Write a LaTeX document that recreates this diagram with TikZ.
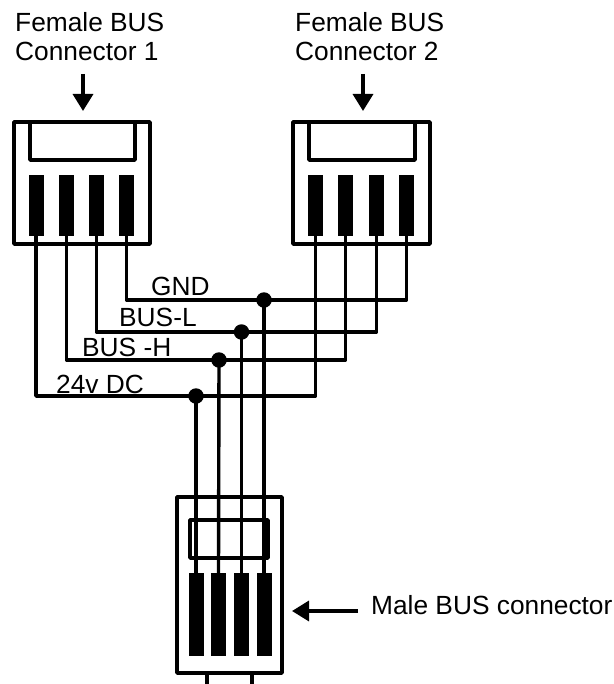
\documentclass[tikz,border=0pt]{standalone}
\usepackage{fontspec}
\setmainfont{Liberation Sans}
\usetikzlibrary{arrows.meta}
\begin{document}
\begin{tikzpicture}[x=1pt,y=-1pt,
  lbl/.style={anchor=base west,inner sep=0pt,font=\fontsize{26.3pt}{30pt}\selectfont},
  body/.style={draw,line width=3.4pt,line join=round,minimum width=0pt,minimum height=0pt,inner sep=0pt},
  wire/.style={line width=3.4pt,line join=round},
  pinbar/.style={fill=black,inner sep=0pt,minimum width=15pt},
  fpin/.style={pinbar,minimum height=61pt},
  mpin/.style={pinbar,minimum height=83pt},
  dotnode/.style={circle,fill=black,inner sep=0pt,minimum size=15.5pt},
  arr/.style={line width=3.4pt,-{Triangle[length=17pt,width=20pt]}}]
\useasboundingbox (0,0) rectangle (613,684);
% labels
\node[lbl] (t1a) at (15,32) {Female BUS};
\node[lbl] (t1b) at (15,61) {Connector 1};
\node[lbl] (t2a) at (295,32) {Female BUS};
\node[lbl] (t2b) at (295,61) {Connector 2};
\node[lbl] (tm) at (371,614) {Male BUS connector};
\node[lbl] (tg) at (151,295) {GND};
\node[lbl] (tl) at (119,326) {BUS-L};
\node[lbl] (th) at (82,356) {BUS -H};
\node[lbl] (td) at (56,393) {24v DC};
% connector 1
\node[body,minimum width=136pt,minimum height=122pt] (c1) at (82,183) {};
\node[body,minimum width=105pt,minimum height=38pt] (k1) at (82.5,141) {};
\foreach \n/\x in {1/36,2/66.5,3/96.5,4/126.5}
  \node[fpin] (a\n) at (\x,205.5) {};
% connector 2
\node[body,minimum width=137pt,minimum height=122pt] (c2) at (361.5,183) {};
\node[body,minimum width=106pt,minimum height=38pt] (k2) at (362,141) {};
\foreach \n/\x in {1/315.5,2/345.5,3/376.5,4/406.5}
  \node[fpin] (b\n) at (\x,205.5) {};
% male
\node[body,minimum width=105pt,minimum height=176pt] (m) at (229.5,585) {};
\node[body,minimum width=78pt,minimum height=38pt] (mk) at (229,539) {};
\foreach \n/\x in {1/196,2/218.5,3/241.5,4/264}
  \node[mpin] (p\n) at (\x,614.5) {};
% junctions
\node[dotnode] (j4) at (264,300) {};
\node[dotnode] (j3) at (241.5,332) {};
\node[dotnode] (j2) at (219,360) {};
\node[dotnode] (j1) at (196,396) {};
% wires
\foreach \n in {1,2,3,4}{
  \draw[wire] (a\n.south) |- (j\n.center) -| (b\n.south);
  \draw[wire] (j\n.center) -- (p\n.north);
}
% arrows
\coordinate (s1) at (83,74); \coordinate (e1) at (83,111);
\coordinate (s2) at (363,74); \coordinate (e2) at (363,111);
\coordinate (s3) at (358,611); \coordinate (e3) at (292,611);
\draw[arr] (s1) -- (e1);
\draw[arr] (s2) -- (e2);
\draw[arr] (s3) -- (e3);
% bottom stubs
\coordinate (q1) at (207,673); \coordinate (r1) at (207,684);
\coordinate (q2) at (252,673); \coordinate (r2) at (252,684);
\draw[wire] (q1) -- (r1);
\draw[wire] (q2) -- (r2);
\end{tikzpicture}
\end{document}
